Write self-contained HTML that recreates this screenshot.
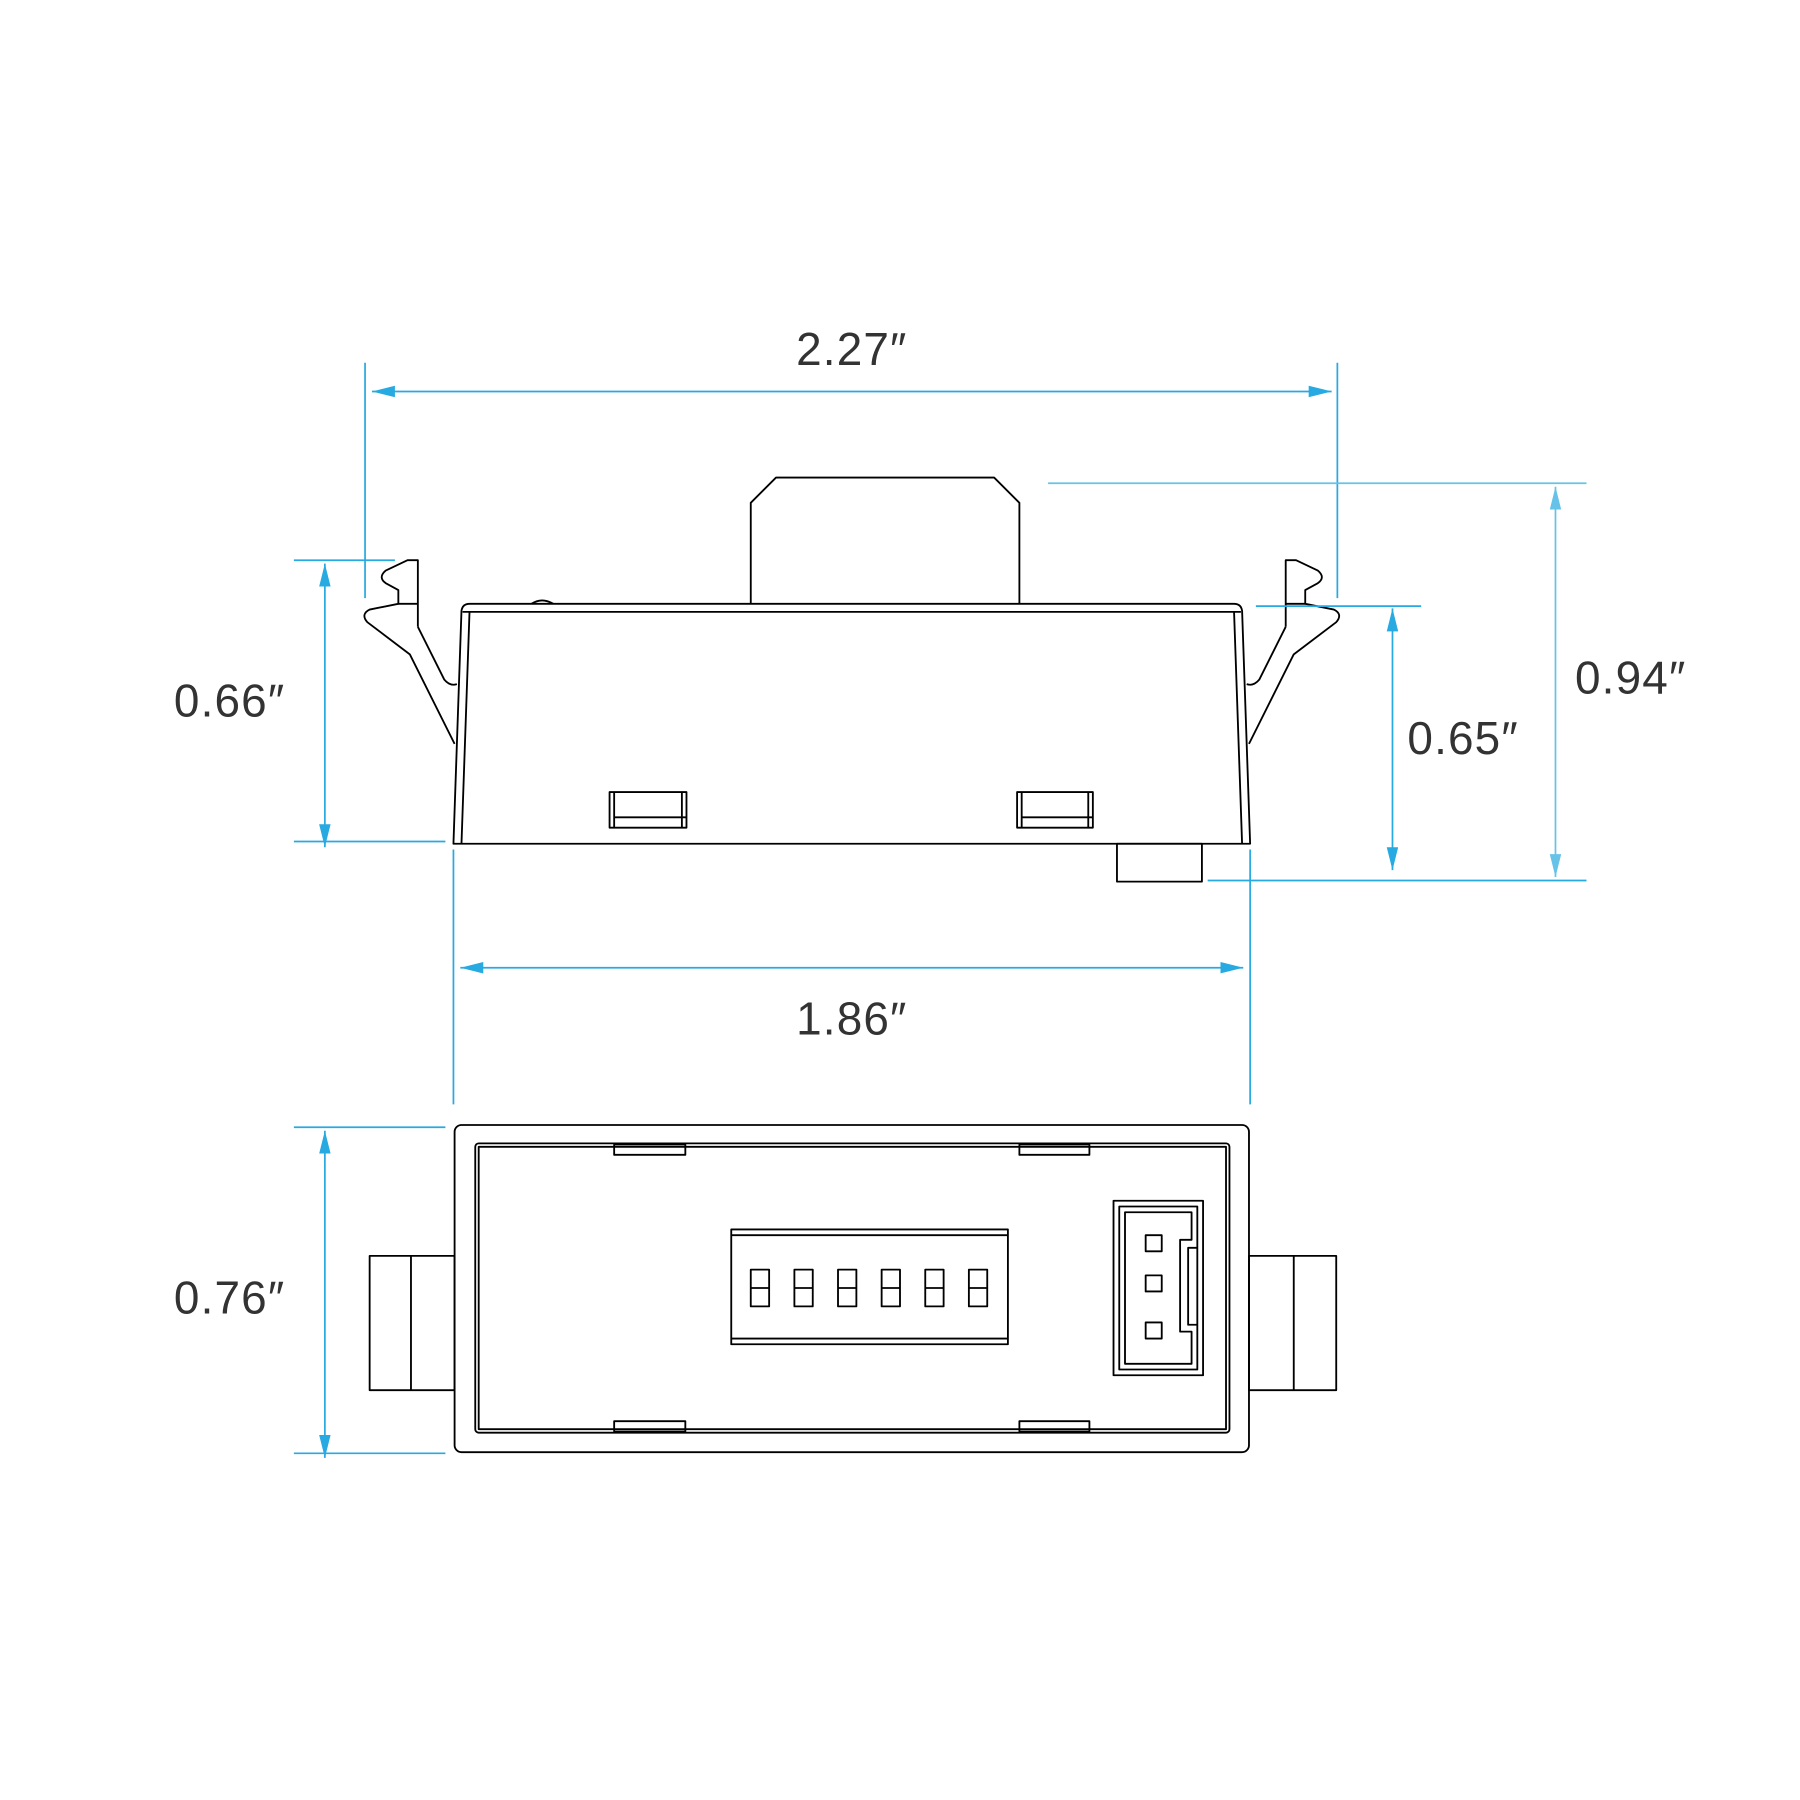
<!DOCTYPE html>
<html><head><meta charset="utf-8"><style>html,body{margin:0;padding:0;background:#fff}svg{display:block}</style></head>
<body>
<svg width="1800" height="1800" viewBox="0 0 1568 1568" xmlns="http://www.w3.org/2000/svg">
<defs>
<marker id="a" viewBox="0 0 20 10" refX="20" refY="5" markerWidth="20" markerHeight="10" markerUnits="userSpaceOnUse" orient="auto-start-reverse"><path d="M0,0 L20,5 L0,10 z" fill="#27a9e1"/></marker>
<marker id="b" viewBox="0 0 20 10" refX="20" refY="5" markerWidth="20" markerHeight="10" markerUnits="userSpaceOnUse" orient="auto-start-reverse"><path d="M0,0 L20,5 L0,10 z" fill="#66c2e8"/></marker>
</defs>
<g fill="none" stroke="#000" stroke-width="1.6" stroke-linejoin="round">
<path d="M654,526 L654,438 L676,416 L866,416 L888,438 L888,526"/>
<path d="M395,735 L402,532 Q403,526 409,526 L1075,526 Q1081,526 1082,532 L1089,735 Z"/>
<path d="M403,533 L1081,533"/>
<path d="M402,735 L409,533 M1082,735 L1075,533"/>
<path d="M364,546 L364,488 L355,488 L336,497 Q329,503 336,508 L347,514 L347,526 L322,531 Q314,535 320,542 L357,570 L396,648"/>
<path d="M347,526 L364,526"/>
<path d="M364,546 L387,592 Q392,598 398,596"/>
<path d="M1120,546 L1120,488 L1129,488 L1148,497 Q1155,503 1148,508 L1137,514 L1137,526 L1162,531 Q1170,535 1164,542 L1127,570 L1088,648"/>
<path d="M1137,526 L1120,526"/>
<path d="M1120,546 L1097,592 Q1092,598 1086,596"/>
<rect x="531" y="690" width="67" height="31"/><path d="M535,690 L535,721 M535,712 L598,712 M594,690 L594,721"/>
<rect x="886" y="690" width="66" height="31"/><path d="M890,690 L890,721 M890,712 L952,712 M948,690 L948,721"/>
<path d="M463,526 Q472,520 482,526"/>
<rect x="973" y="735" width="74" height="33"/>
<rect x="396" y="980" width="692" height="285" rx="6"/>
<rect x="414" y="996" width="657" height="252" rx="3"/>
<rect x="417" y="999" width="651" height="246"/>
<rect x="535" y="997" width="62" height="9"/><rect x="888" y="997" width="61" height="9"/>
<rect x="535" y="1238" width="62" height="9"/><rect x="888" y="1238" width="61" height="9"/>
<rect x="637" y="1071" width="241" height="100"/><path d="M637,1076 L878,1076 M637,1166 L878,1166"/>
<g>
<rect x="654" y="1106" width="16" height="32"/><path d="M654,1122 L670,1122"/>
<rect x="692" y="1106" width="16" height="32"/><path d="M692,1122 L708,1122"/>
<rect x="730" y="1106" width="16" height="32"/><path d="M730,1122 L746,1122"/>
<rect x="768" y="1106" width="16" height="32"/><path d="M768,1122 L784,1122"/>
<rect x="806" y="1106" width="16" height="32"/><path d="M806,1122 L822,1122"/>
<rect x="844" y="1106" width="16" height="32"/><path d="M844,1122 L860,1122"/>
</g>
<rect x="970" y="1046" width="78" height="152"/>
<rect x="975" y="1051" width="68" height="142"/>
<path d="M980,1056 L1038,1056 L1038,1080 L1028,1080 L1028,1160 L1038,1160 L1038,1188 L980,1188 Z"/>
<path d="M1043,1087 L1035,1087 L1035,1154 L1043,1154"/>
<rect x="998" y="1076" width="14" height="14"/><rect x="998" y="1111" width="14" height="14"/><rect x="998" y="1152" width="14" height="14"/>
<rect x="322" y="1094" width="74" height="117"/><path d="M358,1094 L358,1211"/>
<rect x="1088" y="1094" width="76" height="117"/><path d="M1127,1094 L1127,1211"/>
</g>
<g stroke="#27a9e1" stroke-width="1.5" fill="none">
<path d="M318,316 L318,521 M1165,316 L1165,521"/>
<path d="M324,341 L1160,341" marker-start="url(#a)" marker-end="url(#a)"/>
<path d="M256,488 L344,488 M256,733 L388,733"/>
<path d="M283,491 L283,738" marker-start="url(#a)" marker-end="url(#a)"/>
<path d="M1094,528 L1238,528 M1052,767 L1382,767"/>
<path d="M1213,530 L1213,758" marker-start="url(#a)" marker-end="url(#a)"/>
<path d="M395,740 L395,962 M1089,740 L1089,962"/>
<path d="M401,843 L1083,843" marker-start="url(#a)" marker-end="url(#a)"/>
<path d="M256,982 L388,982 M256,1266 L388,1266"/>
<path d="M283,985 L283,1270" marker-start="url(#a)" marker-end="url(#a)"/>
</g>
<g stroke="#66c2e8" stroke-width="1.5" fill="none">
<path d="M913,421 L1382,421"/>
<path d="M1355,424 L1355,764" marker-start="url(#b)" marker-end="url(#b)"/>
</g>
<g font-family="Liberation Sans, sans-serif" font-size="40" fill="#333" letter-spacing="1">
<text x="742" y="318" text-anchor="middle">2.27″</text>
<text x="200" y="624" text-anchor="middle">0.66″</text>
<text x="1226" y="657">0.65″</text>
<text x="1372" y="604">0.94″</text>
<text x="742" y="901" text-anchor="middle">1.86″</text>
<text x="200" y="1144" text-anchor="middle">0.76″</text>
</g>
</svg>
</body></html>
